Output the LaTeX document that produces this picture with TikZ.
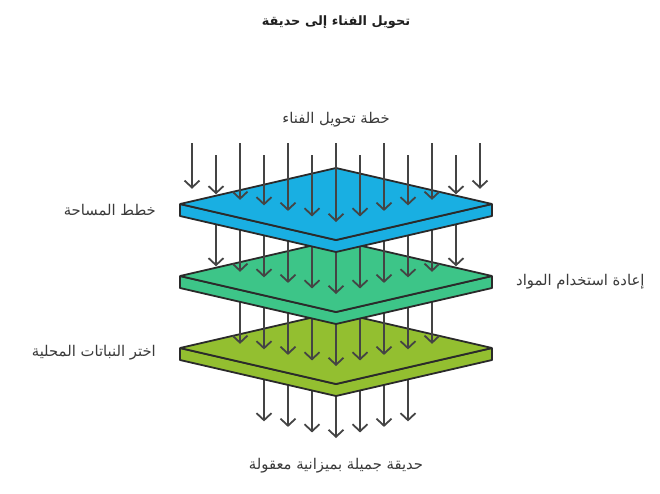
\documentclass[tikz,border=0pt]{standalone}
\usepackage{fontspec}
\usetikzlibrary{arrows.meta}
\TeXXeTstate=1
\newfontfamily\arabicfont[Script=Arabic]{DejaVu Sans}
\definecolor{lblue}{HTML}{19AFE2}
\definecolor{lgreen}{HTML}{3DC588}
\definecolor{lolive}{HTML}{93BF30}
\definecolor{edgec}{HTML}{2A2A2A}
\definecolor{arrc}{HTML}{444444}
\definecolor{txtc}{HTML}{3A3A3A}
\tikzset{
  flow/.style={draw=arrc, line width=1.8pt, -{Straight Barb[length=7pt,width=15pt,line width=1.8pt]}},
  slab/.style={draw=edgec, line width=1.8pt, line join=bevel},
  lbl/.style={text=txtc, font=\arabicfont\fontsize{14.8}{17}\selectfont, inner sep=0pt},
  ttl/.style={text=black!88, font=\arabicfont\bfseries\fontsize{12.9}{15}\selectfont, inner sep=0pt}
}
\newcommand\mylayer[2]{%
  \path[slab, fill=#2] (180,#1) -- (336,#1+36) -- (492,#1) -- (492,#1+12) -- (336,#1+48) -- (180,#1+12) -- cycle;
  \path[slab, fill=#2] (180,#1) -- (336,#1-36) -- (492,#1) -- (336,#1+36) -- cycle;
}
\begin{document}
\begin{tikzpicture}[x=1pt,y=-1pt]
\useasboundingbox (0,0) rectangle (660,493);
% bottom arrows
\foreach \i in {0,...,6}{
  \pgfmathsetmacro\xx{264+24*\i}
  \pgfmathsetmacro\yy{438-0.2308*abs(\xx-336)}
  \coordinate (b\i s) at (\xx,360);
  \coordinate (b\i e) at (\xx,\yy);
  \draw[flow] (b\i s) -- (b\i e);
}
\mylayer{348}{lolive}
% green to olive arrows
\foreach \i in {0,...,8}{
  \pgfmathsetmacro\xx{240+24*\i}
  \pgfmathsetmacro\yy{366-0.2308*abs(\xx-336)}
  \coordinate (o\i s) at (\xx,285);
  \coordinate (o\i e) at (\xx,\yy);
  \draw[flow] (o\i s) -- (o\i e);
}
\mylayer{276}{lgreen}
% blue to green arrows
\foreach \i in {0,...,10}{
  \pgfmathsetmacro\xx{216+24*\i}
  \pgfmathsetmacro\yy{294-0.2308*abs(\xx-336)}
  \coordinate (g\i s) at (\xx,212);
  \coordinate (g\i e) at (\xx,\yy);
  \draw[flow] (g\i s) -- (g\i e);
}
\mylayer{204}{lblue}
% top arrows
\foreach \i in {0,...,12}{
  \pgfmathsetmacro\xx{192+24*\i}
  \pgfmathsetmacro\ys{isodd(\i) ? 155 : 143}
  \pgfmathsetmacro\yy{222-0.2308*abs(\xx-336)}
  \coordinate (t\i s) at (\xx,\ys);
  \coordinate (t\i e) at (\xx,\yy);
  \draw[flow] (t\i s) -- (t\i e);
}
% texts
\node[ttl] (title) at (336,22) {\beginR تحويل الفناء إلى حديقة\endR};
\node[lbl] (top) at (336,120) {\beginR خطة تحويل الفناء\endR};
\node[lbl, anchor=east] (l1) at (156,210) {\beginR خطط المساحة\endR};
\node[lbl, anchor=west] (l2) at (516,282) {\beginR إعادة استخدام المواد\endR};
\node[lbl, anchor=east] (l3) at (156,353) {\beginR اختر النباتات المحلية\endR};
\node[lbl] (bot) at (336,466) {\beginR حديقة جميلة بميزانية معقولة\endR};
\end{tikzpicture}
\end{document}
